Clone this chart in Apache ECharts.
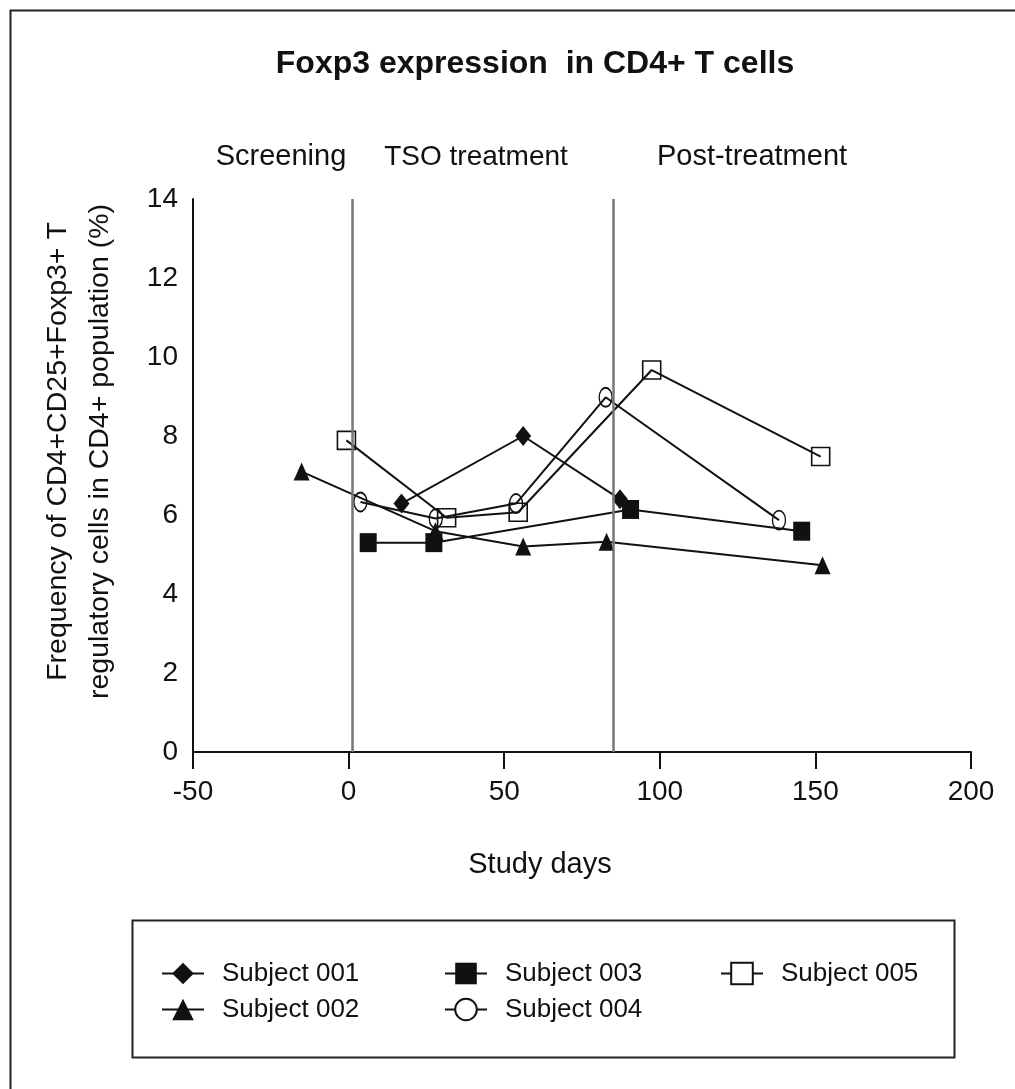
<!DOCTYPE html>
<html><head><meta charset="utf-8">
<script src="https://cdn.jsdelivr.net/npm/echarts@6/dist/echarts.min.js"></script>
<style>html,body{margin:0;padding:0;background:#fff}#c{width:1015px;height:1089px}</style>
</head><body><div id="c"></div>
<script>
const titleText = 'Foxp3 expression  in CD4+ T cells';
const phaseLabels = ['Screening', 'TSO treatment', 'Post-treatment'];
const phaseBoundaries = [1.25, 85];
const xTicks = [-50, 0, 50, 100, 150, 200];
const yTicks = [0, 2, 4, 6, 8, 10, 12, 14];
const subjectNames = ['Subject 001', 'Subject 002', 'Subject 003', 'Subject 004', 'Subject 005'];
const subject001 = [[17.0, 6.29], [56.1, 8.0], [87.2, 6.40]];
const subject002 = [[-15.1, 7.1], [27.9, 5.59], [56.1, 5.2], [82.9, 5.32], [152.3, 4.73]];
const subject003 = [[6.3, 5.30], [27.4, 5.30], [90.6, 6.14], [145.6, 5.59]];
const subject004 = [[3.8, 6.33], [28.0, 5.91], [53.8, 6.29], [82.6, 8.98], [138.3, 5.87]];
const subject005 = [[-0.7, 7.89], [31.5, 5.93], [54.5, 6.07], [97.4, 9.67], [151.7, 7.48]];

const FONT = 'Liberation Sans, Arial, sans-serif';
const chart = echarts.init(document.getElementById('c'), null, {renderer: 'canvas'});

function mkSeries(name, data, symbol, size, filled) {
  return {
    name: name, type: 'line', data: data, symbol: symbol, symbolSize: size,
    showAllSymbol: true,
    lineStyle: {color: '#111', width: 2},
    itemStyle: filled ? {color: '#111', borderColor: '#111', borderWidth: 0}
                      : {color: 'rgba(255,255,255,0)', borderColor: '#111', borderWidth: 1.6},
    z: filled ? 3 : 4
  };
}

const series = [
  mkSeries(subjectNames[0], subject001, 'diamond', [16, 20], true),
  mkSeries(subjectNames[1], subject002, 'triangle', [16, 18], true),
  mkSeries(subjectNames[2], subject003, 'rect', [17, 19], true),
  mkSeries(subjectNames[3], subject004, 'circle', [13, 19], false),
  mkSeries(subjectNames[4], subject005, 'rect', [18, 18], false)
];
series.push({
  type: 'line', data: [], silent: true,
  markLine: {
    symbol: 'none', silent: true, animation: false,
    label: {show: false},
    lineStyle: {color: '#777', width: 2.5, type: 'solid'},
    data: phaseBoundaries.map(b => [{coord: [b, 0]}, {coord: [b, 14]}])
  }
});

const legendBase = {
  orient: 'vertical', top: 955, itemWidth: 42, itemHeight: 27, itemGap: 9,
  textStyle: {fontFamily: FONT, fontSize: 26, color: '#111', lineHeight: 27, padding: [0, 0, 0, 13]},
  selectedMode: false
};
const openItem = n => ({name: n, itemStyle: {color: '#fff'}});

chart.setOption({
  animation: false,
  backgroundColor: '#fff',
  title: {
    text: titleText, left: 530, top: 43, textAlign: 'center',
    textStyle: {fontFamily: FONT, fontSize: 32, fontWeight: 'bold', color: '#111'}
  },
  legend: [
    Object.assign({}, legendBase, {left: 156, data: subjectNames.slice(0, 2)}),
    Object.assign({}, legendBase, {left: 439, data: [subjectNames[2], openItem(subjectNames[3])]}),
    Object.assign({}, legendBase, {left: 715, data: [openItem(subjectNames[4])]})
  ],
  grid: {left: 193, right: 44, top: 199, bottom: 337},
  xAxis: {
    type: 'value', min: xTicks[0], max: xTicks[xTicks.length - 1], interval: 50,
    name: 'Study days', nameLocation: 'middle', nameGap: 98,
    nameTextStyle: {fontFamily: FONT, fontSize: 29, color: '#111', padding: [0, 84, 0, 0]},
    axisLine: {show: true, onZero: false, lineStyle: {color: '#111', width: 2}},
    axisTick: {show: true, inside: false, length: 17, lineStyle: {color: '#111', width: 2}},
    axisLabel: {fontFamily: FONT, fontSize: 28, color: '#111', margin: 26},
    splitLine: {show: false}
  },
  yAxis: {
    type: 'value', min: yTicks[0], max: yTicks[yTicks.length - 1], interval: 2,
    name: 'Frequency of CD4+CD25+Foxp3+ T\nregulatory cells in CD4+ population (%)',
    nameLocation: 'middle', nameRotate: 90, nameGap: 72,
    nameTextStyle: {fontFamily: FONT, fontSize: 28.5, color: '#111', lineHeight: 42, padding: [0, 0, 0, 48]},
    axisLine: {show: true, onZero: false, lineStyle: {color: '#111', width: 2}},
    axisTick: {show: false},
    axisLabel: {fontFamily: FONT, fontSize: 28, color: '#111', margin: 15},
    splitLine: {show: false}
  },
  graphic: [
    {type: 'rect', left: 8, top: 8, shape: {width: 1030, height: 1100}, style: {fill: 'none', stroke: '#222', lineWidth: 2}, z: -1},
    {type: 'rect', left: 130, top: 918, shape: {width: 822, height: 137}, style: {fill: 'none', stroke: '#222', lineWidth: 2}, z: -1},
    {type: 'text', x: 281, y: 157, style: {text: phaseLabels[0], font: '29px ' + FONT, fill: '#111', textAlign: 'center', textVerticalAlign: 'middle'}},
    {type: 'text', x: 476, y: 157, style: {text: phaseLabels[1], font: '28px ' + FONT, fill: '#111', textAlign: 'center', textVerticalAlign: 'middle'}},
    {type: 'text', x: 752, y: 157, style: {text: phaseLabels[2], font: '29px ' + FONT, fill: '#111', textAlign: 'center', textVerticalAlign: 'middle'}}
  ],
  series: series
});
</script>
</body></html>
